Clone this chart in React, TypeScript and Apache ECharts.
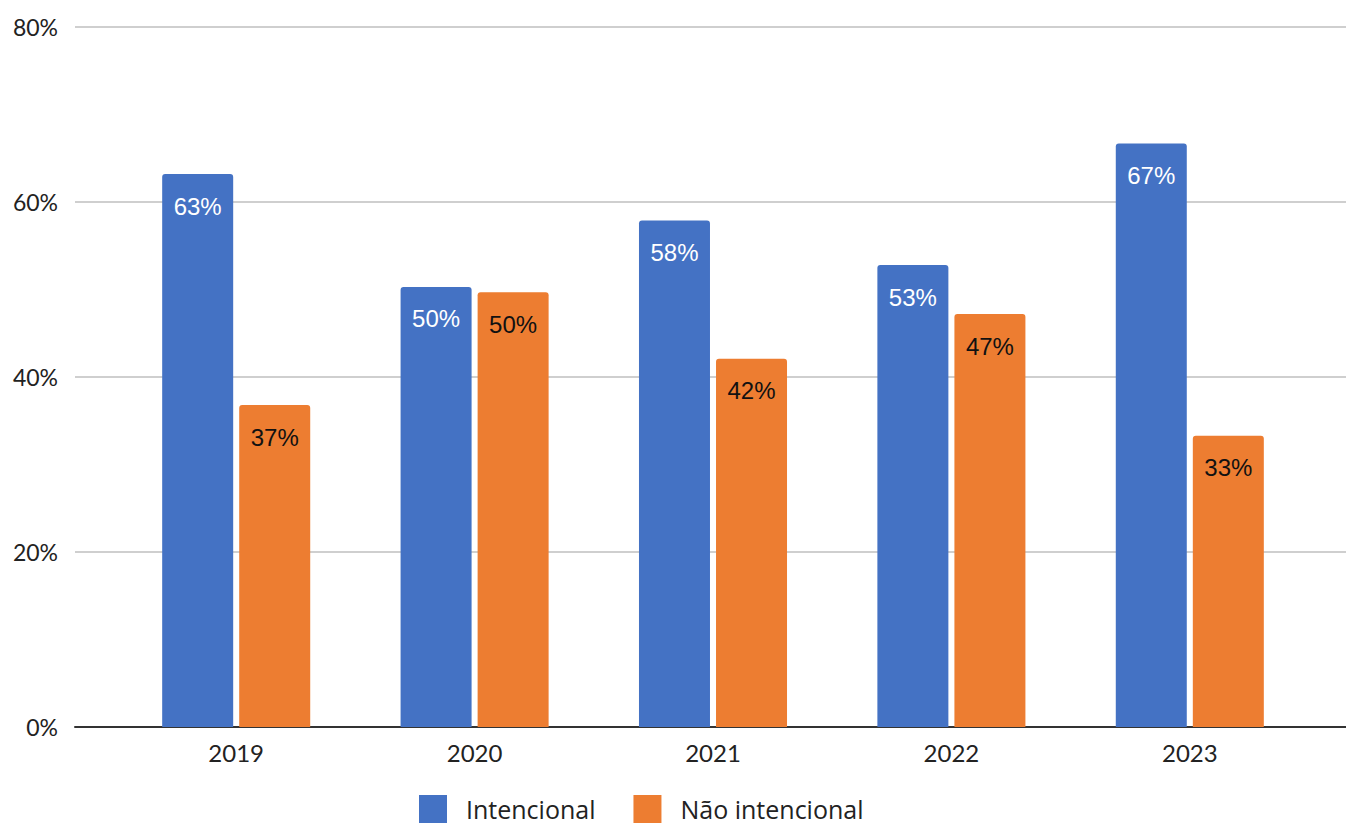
import React, { useEffect, useRef } from "react";
import * as echarts from "echarts";

const years = ["2019", "2020", "2021", "2022", "2023"];
const intencional = [63.2, 50.3, 57.9, 52.8, 66.7];
const naoIntencional = [36.8, 49.7, 42.1, 47.2, 33.3];
const yTicks = { min: 0, max: 80, interval: 20 };
const seriesNames = ["Intencional", "Não intencional"];
const colors = ["#4472C4", "#ED7D31"];

export default function App() {
  const ref = useRef<HTMLDivElement>(null);
  useEffect(() => {
    document.body.style.margin = "0";
    const chart = echarts.init(ref.current!, null, { renderer: "svg" });
    const axisFont = "Lato, 'Open Sans', sans-serif";
    const legendFont = "'Open Sans', Lato, sans-serif";
    const labelFont = "'Liberation Sans', Arial, sans-serif";
    chart.setOption({
      animation: false,
      backgroundColor: "#ffffff",
      grid: [
        { left: 117, right: 37, top: 27, bottom: 101 },
        { left: 75, right: 0, top: 27, bottom: 101 },
      ],
      legend: {
        data: seriesNames,
        left: 414,
        top: 790,
        itemWidth: 28,
        itemHeight: 28,
        itemGap: 38,
        icon: "rect",
        textStyle: {
          fontFamily: legendFont,
          fontSize: 25,
          lineHeight: 25,
          color: "#222",
          padding: [0, 0, 0, 14],
        },
      },
      xAxis: [
        {
          type: "category",
          gridIndex: 0,
          data: years,
          axisLine: { show: false },
          axisTick: { show: false },
          axisLabel: {
            fontFamily: axisFont,
            fontSize: 24,
            color: "#222",
            margin: 13,
          },
        },
        {
          type: "value",
          gridIndex: 1,
          min: 0,
          max: 1,
          show: true,
          axisLine: { show: true, lineStyle: { color: "#333", width: 2 } },
          axisTick: { show: false },
          axisLabel: { show: false },
          splitLine: { show: false },
        },
      ],
      yAxis: [
        {
          type: "value",
          gridIndex: 0,
          min: yTicks.min,
          max: yTicks.max,
          interval: yTicks.interval,
          show: false,
          splitLine: { show: false },
        },
        {
          type: "value",
          gridIndex: 1,
          min: yTicks.min,
          max: yTicks.max,
          interval: yTicks.interval,
          axisLine: { show: false },
          axisTick: { show: false },
          axisLabel: {
            formatter: "{value}%",
            fontFamily: axisFont,
            fontSize: 23,
            color: "#222",
            margin: 17,
          },
          splitLine: { show: true, lineStyle: { color: "#cfcfcf", width: 2 } },
        },
      ],
      series: [
        {
          name: seriesNames[0],
          type: "bar",
          xAxisIndex: 0,
          yAxisIndex: 0,
          data: intencional,
          barWidth: 71,
          barGap: "8.5%",
          z: 3,
          itemStyle: { color: colors[0], borderRadius: [3, 3, 0, 0] },
          label: {
            show: true,
            position: "insideTop",
            distance: 20,
            color: "#ffffff",
            fontFamily: labelFont,
            fontSize: 24,
            formatter: (p: any) => Math.round(p.value) + "%",
          },
        },
        {
          name: seriesNames[1],
          type: "bar",
          xAxisIndex: 0,
          yAxisIndex: 0,
          data: naoIntencional,
          barWidth: 71,
          barGap: "8.5%",
          z: 3,
          itemStyle: { color: colors[1], borderRadius: [3, 3, 0, 0] },
          label: {
            show: true,
            position: "insideTop",
            distance: 20,
            color: "#111111",
            fontFamily: labelFont,
            fontSize: 24,
            formatter: (p: any) => Math.round(p.value) + "%",
          },
        },
      ],
    });
    return () => chart.dispose();
  }, []);
  return <div ref={ref} style={{ width: 1346, height: 828 }} />;
}
